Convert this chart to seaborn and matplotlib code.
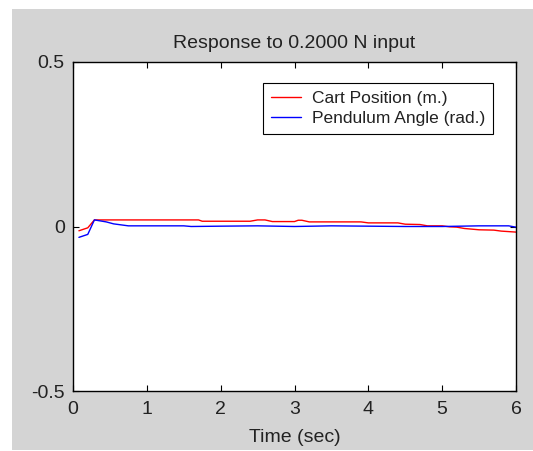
import numpy as np
import pandas as pd
import matplotlib
matplotlib.use("Agg")
import matplotlib.pyplot as plt
import seaborn as sns
from matplotlib.patches import Rectangle

# ---- data ----
cart_t = [0.08, 0.2, 0.29, 1.0, 1.7, 1.75, 2.4, 2.5, 2.6, 2.7, 3.0, 3.05, 3.1, 3.2,
          3.9, 4.0, 4.4, 4.5, 4.7, 4.8, 5.0, 5.1, 5.2, 5.3, 5.4, 5.5, 5.7, 5.8, 6.0]
cart_pos = [-0.013, -0.004, 0.020, 0.020, 0.020, 0.016, 0.016, 0.020, 0.020, 0.015,
            0.015, 0.019, 0.019, 0.014, 0.014, 0.011, 0.011, 0.007, 0.006, 0.002,
            0.002, -0.001, -0.002, -0.006, -0.008, -0.010, -0.011, -0.014, -0.017]
pend_t = [0.08, 0.2, 0.29, 0.45, 0.55, 0.75, 1.5, 1.6, 2.0, 2.5, 3.0, 3.5, 4.0,
          4.5, 5.0, 5.5, 5.9, 6.0]
pend_ang = [-0.033, -0.024, 0.020, 0.014, 0.008, 0.002, 0.002, 0.0, 0.001, 0.002,
            0.0, 0.002, 0.001, 0.0, 0.0, 0.002, 0.002, -0.002]
series_names = ["Cart Position (m.)", "Pendulum Angle (rad.)"]
title_text = "Response to 0.2000 N input"
xlabel_text = "Time (sec)"
xticks = [0, 1, 2, 3, 4, 5, 6]
yticks = [-0.5, 0, 0.5]
ytick_labels = ["-0.5", "0", "0.5"]

df = pd.concat([
    pd.DataFrame({"t": cart_t, "v": cart_pos, "s": series_names[0]}),
    pd.DataFrame({"t": pend_t, "v": pend_ang, "s": series_names[1]}),
])

sns.set_style("ticks")
plt.rcParams["font.family"] = ["Liberation Sans", "DejaVu Sans"]
text_color = "#222222"

W, H = 533, 451
fig = plt.figure(figsize=(W / 100, H / 100), dpi=100, facecolor="white")
fig.patches.append(Rectangle((12 / W, 1 / H), 1 - 12 / W, (450 - 9) / H,
                             transform=fig.transFigure, facecolor="#d4d4d4",
                             edgecolor="none", zorder=-10))

ax = fig.add_axes([73 / W, 1 - 391 / H, (516 - 73) / W, (391 - 62) / H])
ax.set_facecolor("white")

sns.lineplot(data=df, x="t", y="v", hue="s", palette=["#ff0000", "#0000ff"],
             sort=False, estimator=None, units="s", linewidth=1.0, ax=ax, legend=True)

ax.set_xlim(0, 6)
ax.set_ylim(-0.5, 0.5)
ax.set_xticks(xticks)
ax.set_xticklabels([str(x) for x in xticks])
ax.set_yticks(yticks)
ax.set_yticklabels(ytick_labels)
ax.tick_params(direction="in", length=4.3, width=0.8, top=True, right=True,
               labelsize=14, color="black", labelcolor=text_color, pad=7)
ax.tick_params(axis="y", pad=6)
for sp in ax.spines.values():
    sp.set_visible(True)
    sp.set_linewidth(1.0)
    sp.set_color("black")

ax.set_xlabel(xlabel_text, fontsize=14, labelpad=8, color=text_color)
ax.set_ylabel("")
ax.set_title(title_text, fontsize=14, pad=10, color=text_color)

leg = ax.legend(loc="upper right", bbox_to_anchor=(0.948, 0.936), fontsize=12.5,
                frameon=True, fancybox=False, edgecolor="black", framealpha=1,
                handlelength=1.72, borderpad=0.45, labelspacing=0.3, handletextpad=0.63,
                borderaxespad=0)
leg.get_frame().set_linewidth(0.8)
for t in leg.get_texts():
    t.set_color(text_color)

fig.savefig("out.png", dpi=100, facecolor="white")
